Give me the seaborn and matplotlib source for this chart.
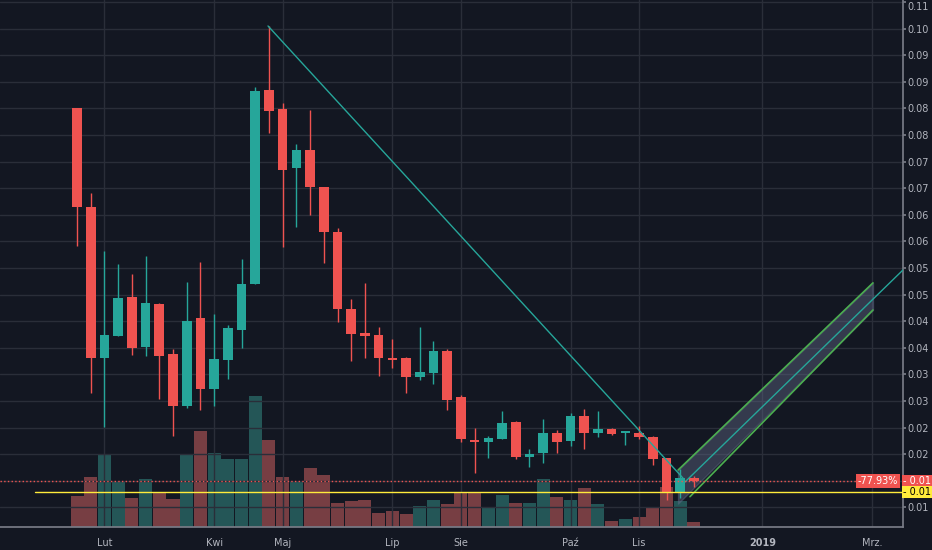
import pandas as pd, numpy as np
import matplotlib.pyplot as plt
import seaborn as sns

sns.set(font='Liberation Sans')
sns.set_style("dark")

bg = '#131722'
grid = '#2a2e39'
txt = '#b2b5be'
up, down = '#26a69a', '#ef5350'

# weekly candles: open, high, low, close
ohlc = [
    (0.0851, 0.0851, 0.0591, 0.0665), (0.0665, 0.0691, 0.0315, 0.0381),
    (0.0381, 0.0582, 0.0251, 0.0424), (0.0422, 0.0557, 0.0422, 0.0494),
    (0.0495, 0.0539, 0.0386, 0.0400), (0.0401, 0.0572, 0.0385, 0.0484),
    (0.0482, 0.0484, 0.0304, 0.0385), (0.0388, 0.0398, 0.0234, 0.0290),
    (0.0290, 0.0524, 0.0287, 0.0450), (0.0456, 0.0561, 0.0283, 0.0322),
    (0.0322, 0.0463, 0.0290, 0.0379), (0.0377, 0.0443, 0.0341, 0.0437),
    (0.0433, 0.0567, 0.0400, 0.0520), (0.0520, 0.0890, 0.0520, 0.0883),
    (0.0885, 0.1005, 0.0804, 0.0845), (0.0849, 0.0860, 0.0589, 0.0734),
    (0.0738, 0.0783, 0.0627, 0.0772), (0.0772, 0.0847, 0.0650, 0.0702),
    (0.0702, 0.0702, 0.0559, 0.0618), (0.0618, 0.0625, 0.0448, 0.0473),
    (0.0473, 0.0492, 0.0375, 0.0426), (0.0428, 0.0522, 0.0381, 0.0422),
    (0.0424, 0.0439, 0.0347, 0.0381), (0.0379, 0.0417, 0.0362, 0.0377),
    (0.0381, 0.0383, 0.0315, 0.0345), (0.0345, 0.0439, 0.0339, 0.0354),
    (0.0353, 0.0413, 0.0332, 0.0394), (0.0394, 0.0398, 0.0283, 0.0302),
    (0.0307, 0.0311, 0.0223, 0.0229), (0.0227, 0.0249, 0.0165, 0.0223),
    (0.0223, 0.0234, 0.0193, 0.0230), (0.0229, 0.0281, 0.0229, 0.0259),
    (0.0260, 0.0262, 0.0191, 0.0194), (0.0194, 0.0210, 0.0176, 0.0200),
    (0.0202, 0.0266, 0.0183, 0.0240), (0.0240, 0.0245, 0.0202, 0.0223),
    (0.0225, 0.0277, 0.0215, 0.0272), (0.0272, 0.0285, 0.0210, 0.0240),
    (0.0240, 0.0281, 0.0232, 0.0247), (0.0247, 0.0249, 0.0236, 0.0238),
    (0.0240, 0.0242, 0.0217, 0.0242), (0.0240, 0.0253, 0.0229, 0.0232),
    (0.0232, 0.0234, 0.0180, 0.0191), (0.0193, 0.0193, 0.0114, 0.0128),
    (0.0128, 0.0172, 0.0118, 0.0155), (0.0155, 0.0159, 0.0139, 0.0150),
]
volume = [94, 151, 216, 138, 88, 144, 105, 85, 216, 287, 222, 203, 205, 392, 261, 151,
          138, 177, 156, 72, 79, 82, 43, 49, 40, 64, 82, 70, 101, 105, 59, 95,
          72, 72, 144, 91, 82, 117, 70, 19, 25, 30, 56, 119, 79, 16]

df = pd.DataFrame(ohlc, columns=['open', 'high', 'low', 'close'])
df['volume'] = volume
df['idx'] = np.arange(len(df))
df['dir'] = np.where(df.close >= df.open, 'up', 'down')

# weeks from 2018-01-22; first bar of each month gets a label
month_ticks = {2: 'Lut', 10: 'Kwi', 15: 'Maj', 23: 'Lip', 28: 'Sie', 36: 'Paź', 41: 'Lis',
               50: '2019', 58: 'Mrz.'}


def candles(ax):
    colors = df.dir.map({'up': up, 'down': down})
    ax.vlines(df.idx, df.low, df.high, color=colors, linewidth=1, zorder=3)
    body = (df.close - df.open).abs().clip(lower=0.0003)
    ax.bar(df.idx, body, bottom=df[['open', 'close']].min(axis=1), width=0.7,
           color=colors, edgecolor='none', linewidth=0, zorder=4)


fig = plt.figure(figsize=(9.32, 5.5), dpi=100, facecolor=bg)
ax = fig.add_axes([0, 0.042, 903 / 932, 0.958])
ax2 = ax.twinx()
ax.set_facecolor(bg)

sns.barplot(data=df, x='idx', y='volume', hue='dir', palette={'up': up, 'down': down},
            native_scale=True, width=0.95, alpha=0.5, legend=False, ax=ax2,
            edgecolor='none', linewidth=0, zorder=1)
ax2.set_ylim(0, 1580)
ax2.set_axis_off()
ax.set_zorder(ax2.get_zorder() + 1)
ax.patch.set_visible(False)
fig.patch.set_facecolor(bg)

candles(ax)

# drawings
ax.plot([13.93, 44.2], [0.1005, 0.0155], color=up, linewidth=1, zorder=5)
ax.fill_between([43.84, 58.06], [0.0170, 0.0522], [0.0107, 0.0471],
                color='#5d6683', alpha=0.45, zorder=2)
ax.plot([43.84, 58.06], [0.0170, 0.0522], color='#4caf50', linewidth=1.2, zorder=5)
ax.plot([44.71, 58.06], [0.0120, 0.0471], color='#4caf50', linewidth=1.2, zorder=5)
ax.plot([44.2, 60.4], [0.0144, 0.0550], color=up, linewidth=1, zorder=5)
ax.plot([-3.06, 60.4], [0.0128, 0.0128], color='#ffeb3b', linewidth=1, zorder=5)
ax.axhline(0.0150, color=down, linestyle=':', linewidth=1, zorder=5)

ax.set_xlim(-5.62, 60.25)
ax.set_ylim(0.00632, 0.10538)
yt = np.arange(0.105, 0.0099, -0.005)
ax.yaxis.tick_right()
ax.set_yticks(yt)
ax.set_yticklabels(['0.11', '0.10', '0.09', '0.09', '0.08', '0.08', '0.07', '0.07', '0.06', '0.06',
                    '0.05', '0.05', '0.04', '0.04', '0.03', '0.03', '0.02', '0.02', '', '0.01'])
ax.get_yticklabels()[0].set_verticalalignment('top')
ax.set_xticks(list(month_ticks))
ax.set_xticklabels(list(month_ticks.values()))
for lab in ax.get_xticklabels():
    if lab.get_text() == '2019':
        lab.set_fontweight('bold')
ax.tick_params(colors=txt, labelsize=7, length=2, color='#787b86', pad=1)
ax.tick_params(axis='x', pad=6)
ax.grid(True, color=grid, linewidth=1)
for side in ['top', 'left']:
    ax.spines[side].set_visible(False)
for side in ['right', 'bottom']:
    ax.spines[side].set_color('#787b86')

ax.text(58.4, 0.0150, '-77.93%', color='white', fontsize=7, va='center', ha='center',
        bbox=dict(boxstyle='square,pad=0.2', fc=down, ec='none'), zorder=6)
ax.text(1.0, 0.0150, '- 0.01', transform=ax.get_yaxis_transform(), color='white',
        fontsize=7, va='center', ha='left', bbox=dict(boxstyle='square,pad=0.1', fc=down, ec='none'))
ax.text(1.0, 0.0128, '- 0.01', transform=ax.get_yaxis_transform(), color='black',
        fontsize=7, va='center', ha='left', bbox=dict(boxstyle='square,pad=0.1', fc='#ffeb3b', ec='none'))

plt.savefig('out.png', facecolor=bg)
